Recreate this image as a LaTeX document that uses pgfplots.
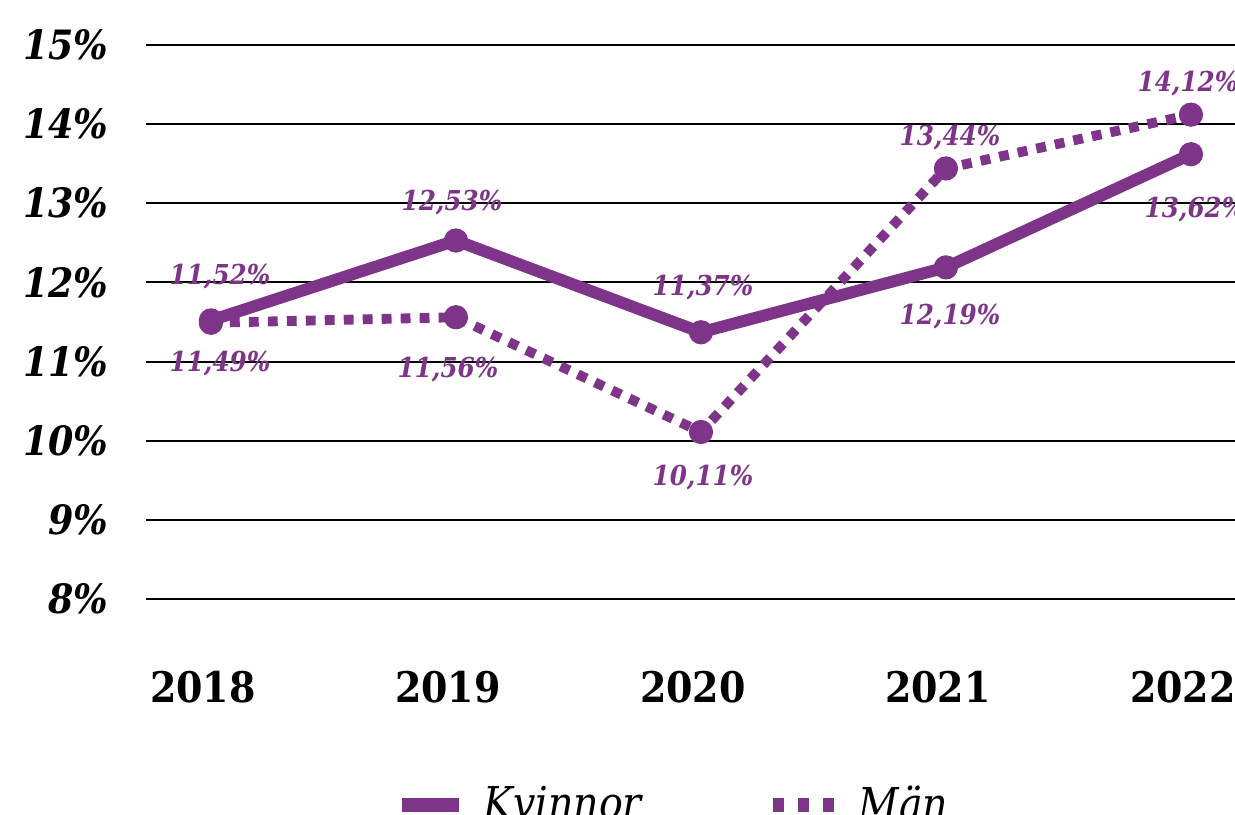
\documentclass[border=0pt]{standalone}
\usepackage{fontspec}
\setmainfont{DejaVu Serif Condensed}
\usepackage{pgfplots}
\usepackage{pgfplotstable}
\pgfplotsset{compat=1.18}
\definecolor{lila}{HTML}{7E3589}

% x y and label offsets (mm)
\pgfplotstableread{
x y dx dy
0 11.52 0.9 4.4
1 12.53 -0.4 3.8
2 11.37 0.2 4.5
3 12.19 0.4 -4.9
4 13.62 0.4 -5.5
}\kvinnor
\pgfplotstableread{
x y dx dy
0 11.49 0.9 -4.1
1 11.56 -0.8 -5.2
2 10.11 0.2 -4.6
3 13.44 0.4 3.1
4 14.12 -0.3 3.1
}\man

\begin{document}
\begin{tikzpicture}
\begin{axis}[
  at={(1.46cm,2.16cm)}, anchor=south west,
  x=2.45cm, y=0.7914cm,
  xmin=-0.265, xmax=4.18, ymin=8, ymax=15,
  clip=false,
  axis line style={draw=none}, major tick length=0pt,
  /pgf/number format/assume math mode=true,
  xtick={0,...,4}, xticklabels={2018,2019,2020,2021,2022},
  ytick={8,...,15}, yticklabel={\pgfmathprintnumber{\tick}\%},
  ymajorgrids, grid style={black,line width=0.6pt},
  xticklabel style={font=\bfseries\fontsize{12}{12}\selectfont, inner sep=0pt, anchor=base, yshift=-1.04cm, xshift=-0.08cm},
  yticklabel style={font=\bfseries\itshape\fontsize{11.5}{12}\selectfont, inner sep=0pt, anchor=east, xshift=-0.37cm},
  legend style={at={(0.2276,-0.372)}, anchor=west, draw=none, fill=none, inner sep=0pt,
    font=\itshape\fontsize{12.5}{13}\selectfont, legend columns=2,
    /tikz/every even column/.append style={column sep=1.17cm}},
  every node near coord/.append style={anchor=center, xshift=\dx mm, yshift=\dy mm,
    font=\bfseries\itshape\fontsize{7.8}{8}\selectfont, text=lila},
  nodes near coords={\pgfmathprintnumber[fixed,fixed zerofill,precision=2,use comma]{\pgfplotspointmeta}\%},
  point meta=y,
  visualization depends on={\thisrow{dx} \as \dx},
  visualization depends on={\thisrow{dy} \as \dy},
]
\addplot[lila, line width=3.4pt, line join=round, mark=*, mark size=3.3pt,
  mark options={solid, line width=0.3pt, fill=lila},
  legend image code/.code={\draw[lila,line width=4pt] (0cm,0cm) -- (0.57cm,0cm); \path (0.69cm,0cm);}]
  table[x=x,y=y] {\kvinnor};
\addlegendentry{Kvinnor}
\addplot[lila, line width=2.8pt, line cap=butt, dash pattern=on 2.8pt off 2.6pt,
  mark=*, mark size=3.3pt, mark options={solid, line width=0.3pt, fill=lila},
  legend image code/.code={\draw[lila,line width=4pt,dash pattern=on 3.3pt off 3.8pt] (0cm,0cm) -- (0.65cm,0cm); \path (0.74cm,0cm);}]
  table[x=x,y=y] {\man};
\addlegendentry{Män}
\end{axis}
\pgfresetboundingbox
\path[use as bounding box] (0,0) rectangle (12.35,8.15);
\end{tikzpicture}
\end{document}
